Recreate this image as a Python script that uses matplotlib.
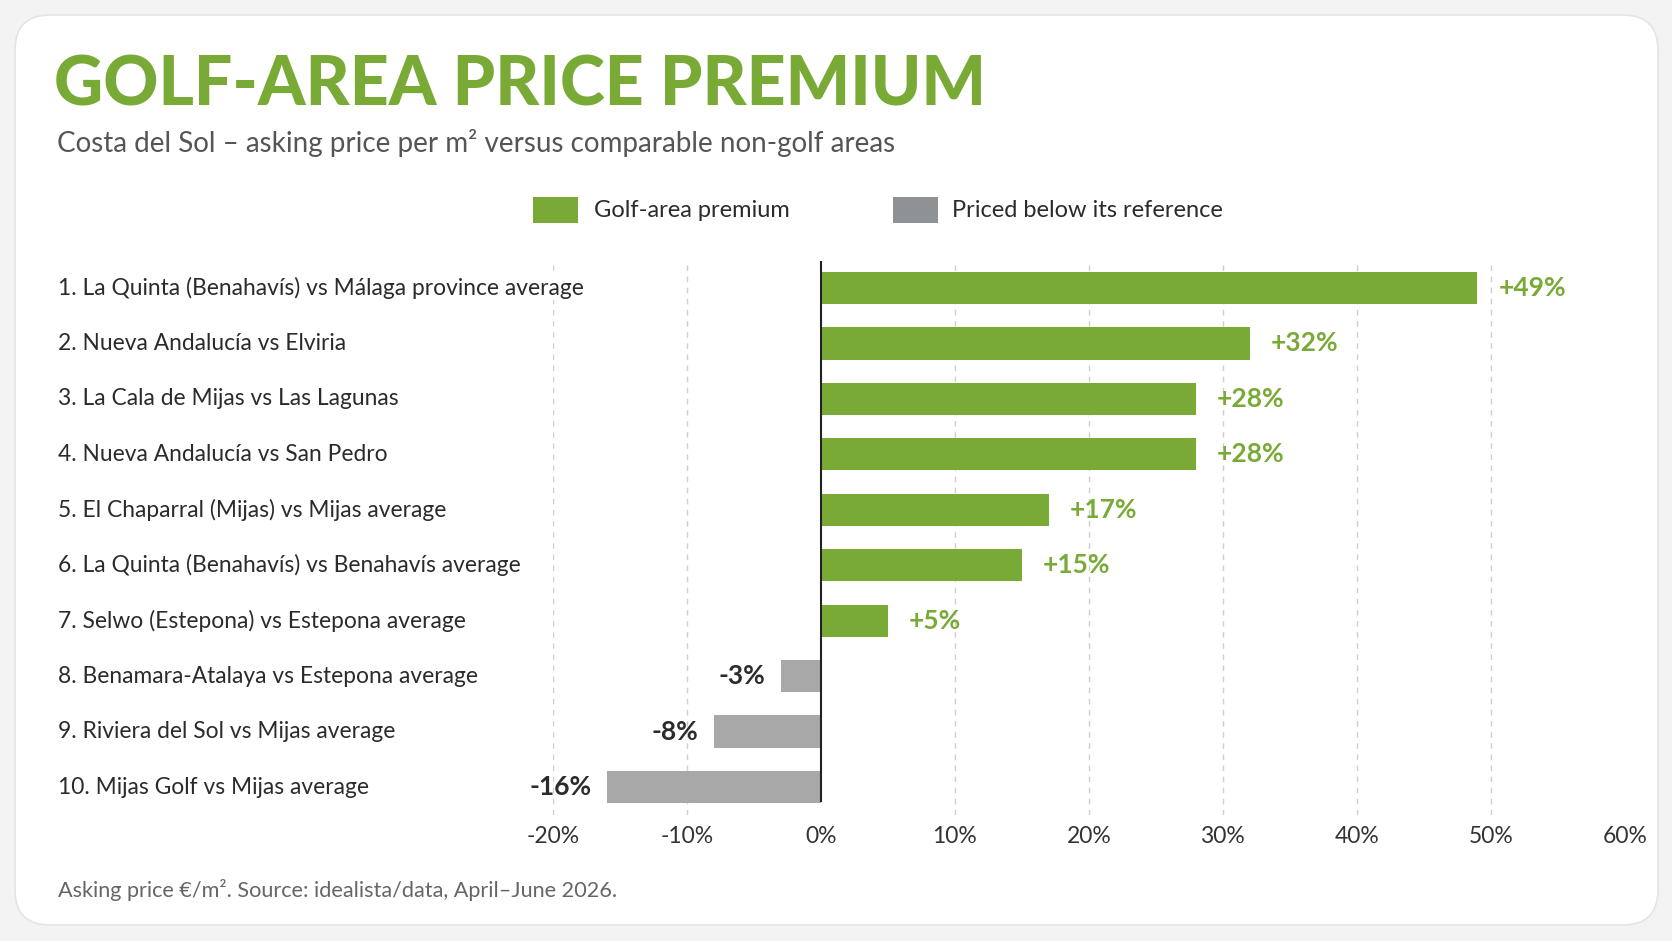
import matplotlib
matplotlib.use("Agg")
import matplotlib.pyplot as plt
from matplotlib.patches import FancyBboxPatch, Rectangle
from matplotlib.transforms import blended_transform_factory

plt.rcParams['font.family'] = ['Lato', 'DejaVu Sans']

# data
labels = [
    "1. La Quinta (Benahavís) vs Málaga province average",
    "2. Nueva Andalucía vs Elviria",
    "3. La Cala de Mijas vs Las Lagunas",
    "4. Nueva Andalucía vs San Pedro",
    "5. El Chaparral (Mijas) vs Mijas average",
    "6. La Quinta (Benahavís) vs Benahavís average",
    "7. Selwo (Estepona) vs Estepona average",
    "8. Benamara-Atalaya vs Estepona average",
    "9. Riviera del Sol vs Mijas average",
    "10. Mijas Golf vs Mijas average",
]
premium = [49, 32, 28, 28, 17, 15, 5, -3, -8, -16]
ticks = [-20, -10, 0, 10, 20, 30, 40, 50, 60]
tick_labels = ["-20%", "-10%", "0%", "10%", "20%", "30%", "40%", "50%", "60%"]

GREEN = "#79aa36"
GREY = "#a8a8a8"
DARK = "#2b2b2b"

fig = plt.figure(figsize=(16.72, 9.41), dpi=100, facecolor="#f3f3f3")

# white card behind everything
card = FancyBboxPatch((0.15, 0.16), 16.43, 9.10, boxstyle="round,pad=0,rounding_size=0.35",
                      transform=fig.dpi_scale_trans, facecolor="white", edgecolor="#e4e4e4",
                      linewidth=1.2, zorder=-5)
fig.patches.append(card)

fig.text(0.032, 0.888, "GOLF-AREA PRICE PREMIUM", fontsize=49, fontweight="black",
         color=GREEN, va="baseline", ha="left")
fig.text(0.034, 0.8385, "Costa del Sol – asking price per m² versus comparable non-golf areas",
         fontsize=20, color="#555555", va="baseline", ha="left")

# legend
fig.patches.append(Rectangle((0.3188, 0.763), 0.0269, 0.0276, transform=fig.transFigure,
                             facecolor=GREEN, edgecolor="none"))
fig.text(0.3553, 0.7768, "Golf-area premium", fontsize=17, color=DARK, va="center")
fig.patches.append(Rectangle((0.5341, 0.763), 0.0269, 0.0276, transform=fig.transFigure,
                             facecolor="#8f9294", edgecolor="none"))
fig.text(0.5694, 0.7768, "Priced below its reference", fontsize=17, color=DARK, va="center")

ax = fig.add_axes([0.3307, 0.1339, 0.6411, 0.5887])
ax.set_facecolor("none")

y = list(range(len(labels)))
colors = [GREEN if v >= 0 else GREY for v in premium]
ax.barh(y, premium, height=0.58, color=colors, zorder=3)

for t in ticks:
    if t != 0 and t < ticks[-1]:
        ax.axvline(t, color="#cfcfcf", linestyle=(0, (4, 4)), linewidth=1, zorder=1)
ax.axvline(0, ymin=0.025, color="#222222", linewidth=1.5, zorder=4)

for yi, v in zip(y, premium):
    if v >= 0:
        ax.annotate(f"+{v}%", (v, yi), xytext=(15, 0), textcoords="offset points",
                    ha="left", va="center", fontsize=19, fontweight="bold", color=GREEN)
    else:
        ax.annotate(f"{v}%", (v, yi), xytext=(-11, 0), textcoords="offset points",
                    ha="right", va="center", fontsize=19, fontweight="bold", color=DARK)

trans = blended_transform_factory(fig.transFigure, ax.transData)
for yi, lab in zip(y, labels):
    fig.text(0.0347, yi, lab, transform=trans, fontsize=16.4, color=DARK, ha="left",
             va="center", bbox=dict(facecolor="white", edgecolor="none", pad=1))

ax.set_xlim(-20, 60)
ax.set_ylim(9.505, -0.487)
ax.set_xticks(ticks, tick_labels)
ax.set_yticks([])
ax.tick_params(axis="x", length=0, pad=8, labelsize=16.5, labelcolor="#333333")
for s in ax.spines.values():
    s.set_visible(False)

fig.text(0.0347, 0.0468, "Asking price €/m². Source: idealista/data, April–June 2026.",
         fontsize=15.6, color="#666666", va="baseline", ha="left")

fig.savefig("out.png", dpi=100, facecolor=fig.get_facecolor())
